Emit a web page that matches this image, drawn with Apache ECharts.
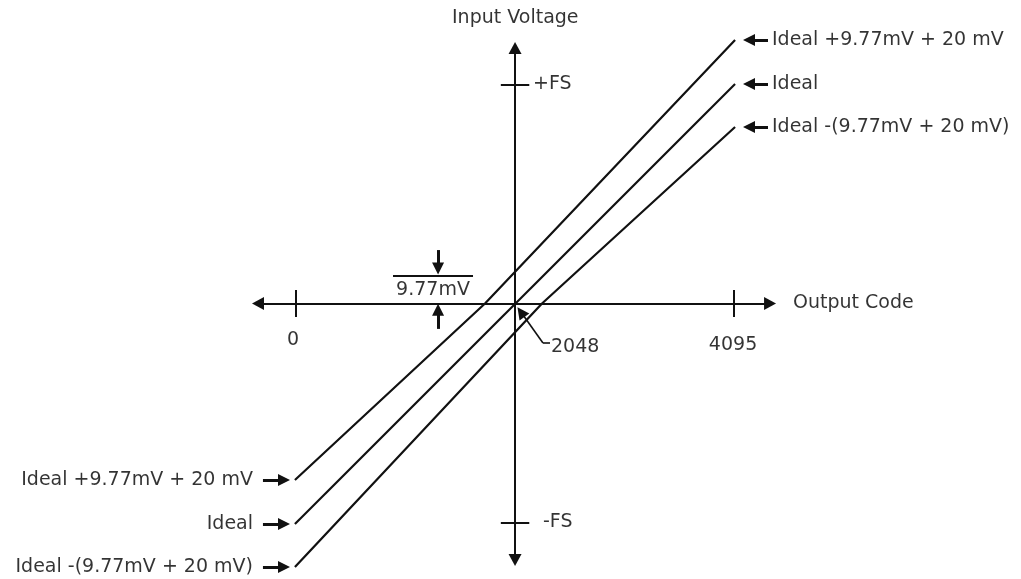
<!DOCTYPE html>
<html>
<head>
<meta charset="utf-8">
<title>Input voltage vs output code</title>
<script src="https://cdn.jsdelivr.net/npm/echarts@6/dist/echarts.min.js"></script>
<style>
  html, body { margin: 0; padding: 0; background: #fff; }
  #chart { width: 1021px; height: 579px; }
</style>
</head>
<body>
<div id="chart"></div>
<script>
// x = output code, y = input voltage in full-scale units (+FS = 1)
const codeTicks = [0, 4095];
const fsTicks = [1, -1];

const lineNames = ['Ideal +9.77mV + 20 mV', 'Ideal', 'Ideal -(9.77mV + 20 mV)'];
const upperX = [-10, 1767, 4105];
const upperY = [-0.806, 0, 1.203];
const idealX = [-10, 4105];
const idealY = [-1.007, 1.002];
const lowerX = [-10, 2300, 4105];
const lowerY = [-1.203, 0, 0.806];

// axis extents (arrow ends)
const xAxisEnds = [-355, 4432];
const yAxisEnds = [1.167, -1.171];
const originCode = 2048;

// annotation texts
const annoText = ['Input Voltage', 'Output Code', '+FS', '-FS', '0', '2048', '4095', '9.77mV'];
const annoX = [2050, 4647, 2216, 2309, -28, 2384, 4086, 1281];
const annoY = [1.304, 0, 1.0, -1.0, -0.167, -0.199, -0.189, 0.062];
const annoAlign = ['center', 'left', 'left', 'left', 'center', 'left', 'center', 'center'];

// 9.77mV offset marker
const offsetBarX = [907, 1655];
const offsetBarY = 0.1256;
const offsetArrowX = 1328;
const offsetDown = [0.244, 0.160];
const offsetUp = [-0.116, -0.028];

// 2048 leader
const leaderX = [2375, 2309, 2103];
const leaderY = [-0.180, -0.180, -0.039];

// label arrows next to line names
const rightLabelX = 4450, rightArrowX = [4413, 4235];
const leftLabelX = -402, leftArrowX = [-309, -112];

const ink = '#111';
const font = 'DejaVu Sans';
const pxPerCode = 438 / 4095;
const pxPerFs = 219;

function seg(x1, y1, x2, y2, style) {
  return [{ coord: [x1, y1], lineStyle: style }, { coord: [x2, y2] }];
}
function zip(xs, ys) {
  return xs.map((x, i) => [x, ys[i]]);
}

const chart = echarts.init(document.getElementById('chart'));

const lineSeries = [[upperX, upperY], [idealX, idealY], [lowerX, lowerY]].map((d, i) => ({
  name: lineNames[i],
  type: 'line',
  data: zip(d[0], d[1]),
  showSymbol: false,
  silent: true,
  clip: false,
  lineStyle: { color: ink, width: 2.2 },
}));

const tickLen = 0.062;
const tickSegs = [];
codeTicks.forEach((c) => tickSegs.push(seg(c, tickLen, c, -tickLen)));
fsTicks.forEach((f) => tickSegs.push(seg(originCode - 133, f, originCode + 133, f)));
tickSegs.push(seg(offsetBarX[0], offsetBarY, offsetBarX[1], offsetBarY));
tickSegs.push(seg(leaderX[0], leaderY[0], leaderX[1], leaderY[1], { width: 1.6 }));

const pointerSegs = [];
[upperY, idealY, lowerY].forEach((ys) => {
  pointerSegs.push(seg(rightArrowX[0], ys[ys.length - 1], rightArrowX[1], ys[ys.length - 1]));
  pointerSegs.push(seg(leftArrowX[0], ys[0], leftArrowX[1], ys[0]));
});
pointerSegs.push(seg(offsetArrowX, offsetDown[0], offsetArrowX, offsetDown[1]));
pointerSegs.push(seg(offsetArrowX, offsetUp[0], offsetArrowX, offsetUp[1]));
pointerSegs.push(seg(leaderX[1], leaderY[1], leaderX[2], leaderY[2], { width: 1.6 }));

const labelItems = annoText.map((t, i) => ({
  name: t,
  value: [annoX[i], annoY[i]],
  label: { align: annoAlign[i] },
}));
lineNames.forEach((n, i) => {
  const ys = [upperY, idealY, lowerY][i];
  labelItems.push({ name: n, value: [rightLabelX, ys[ys.length - 1]], label: { align: 'left' } });
  labelItems.push({ name: n, value: [leftLabelX, ys[0]], label: { align: 'right' } });
});

const option = {
  animation: false,
  backgroundColor: '#fff',
  grid: { left: 0, right: 0, top: 0, bottom: 0 },
  xAxis: { type: 'value', show: false, min: -296 / pxPerCode, max: (1021 - 296) / pxPerCode },
  yAxis: { type: 'value', show: false, min: -(579 - 303.5) / pxPerFs, max: 303.5 / pxPerFs },
  series: lineSeries.concat([
    {
      name: 'axes',
      type: 'line',
      data: [],
      markLine: {
        silent: true,
        symbol: ['triangle', 'triangle'],
        symbolSize: [13, 12],
        label: { show: false },
        lineStyle: { color: ink, width: 2, type: 'solid' },
        data: [
          seg(xAxisEnds[0], 0, xAxisEnds[1], 0),
          seg(originCode, yAxisEnds[0], originCode, yAxisEnds[1]),
        ],
      },
    },
    {
      name: 'ticks',
      type: 'line',
      data: [],
      markLine: {
        silent: true,
        symbol: ['none', 'none'],
        label: { show: false },
        lineStyle: { color: ink, width: 2, type: 'solid' },
        data: tickSegs,
      },
    },
    {
      name: 'pointers',
      type: 'line',
      data: [],
      markLine: {
        silent: true,
        symbol: ['none', 'triangle'],
        symbolSize: [12, 12],
        label: { show: false },
        lineStyle: { color: ink, width: 3, type: 'solid' },
        data: pointerSegs,
      },
    },
    {
      name: 'labels',
      type: 'scatter',
      symbolSize: 0,
      silent: true,
      data: labelItems,
      label: {
        show: true,
        position: [0, 0],
        verticalAlign: 'middle',
        formatter: '{b}',
        color: '#000',
        textBorderWidth: 0,
        fontFamily: font,
        fontSize: 19,
      },
    },
  ]),
};

chart.setOption(option);
</script>
</body>
</html>
